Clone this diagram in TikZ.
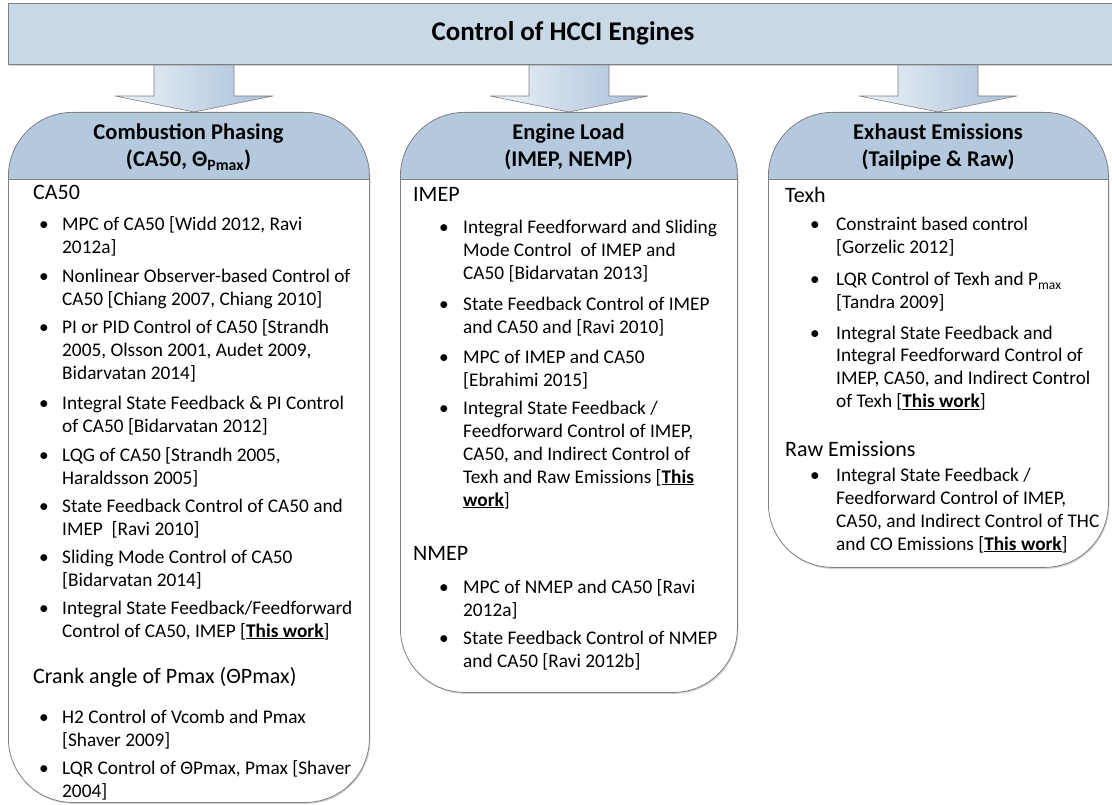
\documentclass[tikz,border=0pt]{standalone}
\usepackage{fontspec}
\setmainfont{Carlito}
\usetikzlibrary{calc,shadows}
\definecolor{bannerfill}{RGB}{201,216,231}
\definecolor{hdrfill}{RGB}{181,201,222}
\definecolor{arrowL}{RGB}{238,243,248}
\definecolor{arrowR}{RGB}{166,190,216}
\definecolor{edge}{RGB}{128,128,128}
\newcommand\lines[1]{\begin{tabular}[t]{@{}l@{}}#1\end{tabular}}
\newcommand\clines[1]{\begin{tabular}[t]{@{}c@{}}#1\end{tabular}}
\newcommand\tw{\underline{\textbf{This work}}}
\tikzset{
  softshadow/.style={drop shadow={shadow xshift=1pt, shadow yshift=-1.5pt, opacity=0.35, fill=gray}},
  banner/.style={draw=edge, line width=0.8pt, fill=bannerfill, anchor=north west, inner sep=0pt, softshadow},
  catbox/.style={draw=edge, line width=0.8pt, fill=white, rounded corners=64pt, anchor=north west, inner sep=0pt, softshadow,
    path picture={\fill[hdrfill, sharp corners] (path picture bounding box.north west) rectangle ([yshift=-67pt]path picture bounding box.north east);
      \draw[edge, line width=0.8pt, sharp corners] ([yshift=-67pt]path picture bounding box.north west) -- ([yshift=-67pt]path picture bounding box.north east);}},
  blockarrow/.style={draw=edge, line width=0.6pt, left color=arrowL, right color=arrowR},
  ttl/.style={inner sep=0pt, font=\fontsize{27}{32}\selectfont\bfseries},
  hd/.style={anchor=base, inner sep=0pt, font=\fontsize{22.5}{27}\selectfont\bfseries},
  lab/.style={anchor=base west, inner sep=0pt, font=\fontsize{22}{26}\selectfont},
  txt/.style={anchor=base west, inner sep=0pt, font=\fontsize{19.3}{23}\selectfont},
  bul/.style={anchor=base, inner sep=0pt, font=\fontsize{19.3}{23}\selectfont},
}
\begin{document}
\begin{tikzpicture}[x=1pt, y=-1pt]
\useasboundingbox (0,0) rectangle (1112,805);
% arrows
\foreach \cx/\n in {194/1, 569/2, 938/3} {
  \coordinate (top\n) at (\cx,64);
  \coordinate (tip\n) at (\cx,112);
  \draw[blockarrow] ($(top\n)+(-40,0)$) -- ($(top\n)+(40,0)$) -- ($(top\n)+(40,32)$) -- ($(top\n)+(79,32)$)
     -- (tip\n) -- ($(top\n)+(-79,32)$) -- ($(top\n)+(-40,32)$) -- cycle;
}
% banner
\node[banner, minimum width=1110pt, minimum height=61pt] (banner) at (8,3) {};
\node[ttl] (title) at (563,33) {Control of HCCI Engines};
% boxes
\node[catbox, minimum width=361pt, minimum height=690pt] (box1) at (8,112) {};
\node[catbox, minimum width=337pt, minimum height=580pt] (box2) at (400,112) {};
\node[catbox, minimum width=340pt, minimum height=455pt] (box3) at (768,112) {};
% headers
\node[hd] (h1) at (188.5,140) {\clines{Combustion Phasing\\(CA50, Θ\textsubscript{Pmax})}};
\node[hd] (h2) at (568.5,140) {\clines{Engine Load\\(IMEP, NEMP)}};
\node[hd] (h3) at (938,140) {\clines{Exhaust Emissions\\(Tailpipe \& Raw)}};
% column 1
\node[lab] (l1a) at (33,200) {CA50};
\node[bul] (d11) at (44,231) {\textbullet};
\node[txt] (t11) at (62,231) {\lines{MPC of CA50 [Widd 2012, Ravi\\2012a]}};
\node[bul] (d12) at (44,283) {\textbullet};
\node[txt] (t12) at (62,283) {\lines{Nonlinear Observer-based Control of\\CA50 [Chiang 2007, Chiang 2010]}};
\node[bul] (d13) at (44,334) {\textbullet};
\node[txt] (t13) at (62,334) {\lines{PI or PID Control of CA50 [Strandh\\2005, Olsson 2001, Audet 2009,\\Bidarvatan 2014]}};
\node[bul] (d14) at (44,409) {\textbullet};
\node[txt] (t14) at (62,409) {\lines{Integral State Feedback \& PI Control\\of CA50 [Bidarvatan 2012]}};
\node[bul] (d15) at (44,461) {\textbullet};
\node[txt] (t15) at (62,461) {\lines{LQG of CA50 [Strandh 2005,\\Haraldsson 2005]}};
\node[bul] (d16) at (44,512) {\textbullet};
\node[txt] (t16) at (62,512) {\lines{State Feedback Control of CA50 and\\IMEP~~[Ravi 2010]}};
\node[bul] (d17) at (44,563) {\textbullet};
\node[txt] (t17) at (62,563) {\lines{Sliding Mode Control of CA50\\{[Bidarvatan 2014]}}};
\node[bul] (d18) at (44,614) {\textbullet};
\node[txt] (t18) at (62,614) {\lines{Integral State Feedback/Feedforward\\Control of CA50, IMEP [\tw]}};
\node[lab] (l1b) at (33,683) {Crank angle of Pmax (ΘPmax)};
\node[bul] (d19) at (44,723) {\textbullet};
\node[txt] (t19) at (62,723) {\lines{H2 Control of Vcomb and Pmax\\{[Shaver 2009]}}};
\node[bul] (d1a) at (44,774) {\textbullet};
\node[txt] (t1a) at (62,774) {\lines{LQR Control of ΘPmax, Pmax [Shaver\\2004]}};
% column 2
\node[lab] (l2a) at (413,202) {IMEP};
\node[bul] (d21) at (444,234) {\textbullet};
\node[txt] (t21) at (463,234) {\lines{Integral Feedforward and Sliding\\Mode Control~~of IMEP and\\CA50 [Bidarvatan 2013]}};
\node[bul] (d22) at (444,311) {\textbullet};
\node[txt] (t22) at (463,311) {\lines{State Feedback Control of IMEP\\and CA50 and [Ravi 2010]}};
\node[bul] (d23) at (444,363) {\textbullet};
\node[txt] (t23) at (463,363) {\lines{MPC of IMEP and CA50\\{[Ebrahimi 2015]}}};
\node[bul] (d24) at (444,414) {\textbullet};
\node[txt] (t24) at (463,414) {\lines{Integral State Feedback /\\Feedforward Control of IMEP,\\CA50, and Indirect Control of\\Texh and Raw Emissions [\underline{\textbf{This}}\\\underline{\textbf{work}}]}};
\node[lab] (l2b) at (413,560) {NMEP};
\node[bul] (d25) at (444,593) {\textbullet};
\node[txt] (t25) at (463,593) {\lines{MPC of NMEP and CA50 [Ravi\\2012a]}};
\node[bul] (d26) at (444,644) {\textbullet};
\node[txt] (t26) at (463,644) {\lines{State Feedback Control of NMEP\\and CA50 [Ravi 2012b]}};
% column 3
\node[lab] (l3a) at (785,203) {Texh};
\node[bul] (d31) at (815,231) {\textbullet};
\node[txt] (t31) at (836,231) {\lines{Constraint based control\\{[Gorzelic 2012]}}};
\node[bul] (d32) at (815,286) {\textbullet};
\node[txt] (t32) at (836,286) {\lines{LQR Control of Texh and P\textsubscript{max}\\{[Tandra 2009]}}};
\node[bul] (d33) at (815,339) {\textbullet};
\node[txt] (t33) at (836,339) {\lines{Integral State Feedback and\\Integral Feedforward Control of\\IMEP, CA50, and Indirect Control\\of Texh [\tw]}};
\node[lab] (l3b) at (785,456) {Raw Emissions};
\node[bul] (d34) at (815,481) {\textbullet};
\node[txt] (t34) at (836,481) {\lines{Integral State Feedback /\\Feedforward Control of IMEP,\\CA50, and Indirect Control of THC\\and CO Emissions [\tw]}};
\end{tikzpicture}
\end{document}
